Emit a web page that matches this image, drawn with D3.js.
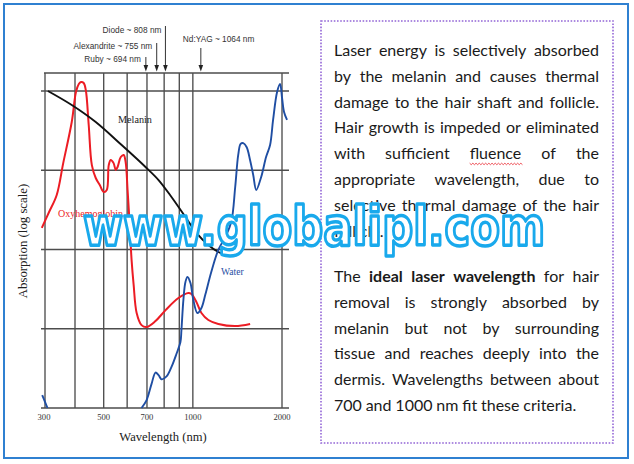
<!DOCTYPE html>
<html><head><meta charset="utf-8">
<script src="https://cdn.jsdelivr.net/npm/d3@7"></script>
<style>html,body{margin:0;padding:0;background:#fff;}svg{display:block;}</style>
</head><body>
<svg id="chart" width="634" height="464"></svg>
<script>
// ---------------- DATA ----------------
const oxyWavelength = [309, 327, 347, 365, 390, 403, 412, 419, 428, 435, 445, 456, 470, 485, 500, 512, 520, 528, 540, 549, 557, 571, 584, 593, 602, 612, 621, 631, 646, 671, 698, 748, 809, 894, 966, 989, 1028, 1069, 1128, 1219, 1390, 1561];
const oxyAbsorption = [187, 297, 487, 1230, 4060, 9710, 12250, 13000, 12600, 10300, 3720, 1160, 798, 651, 532, 564, 1160, 1350, 1230, 1010, 1100, 1470, 1560, 1270, 564, 204, 74, 36, 15.8, 11.1, 10.5, 12.5, 17.2, 24.4, 28.3, 27.4, 21.8, 15.8, 12.9, 11.5, 10.8, 11.5];

const melaninWavelength = [324, 390, 470, 575, 692, 766, 847, 944, 1028, 1128, 1219, 1317];
const melaninAbsorption = [10000, 6660, 4060, 2080, 1100, 753, 460, 257, 162, 114, 93, 83];

const waterWavelength = [671, 698, 725, 748, 766, 784, 815, 847, 880, 908, 915, 929, 944, 959, 981, 1004, 1036, 1069, 1102, 1154, 1219, 1287, 1348, 1390, 1423, 1450, 1480, 1520, 1560, 1599, 1637, 1701, 1767, 1823, 1866, 1925, 1970, 2001, 2032, 2080];
const waterAbsorption = [1.0, 1.26, 2.0, 2.8, 2.6, 2.3, 2.5, 3.3, 4.8, 6.8, 9.6, 23, 39, 45, 38, 23, 15.8, 18.3, 27, 52, 99, 144, 222, 615, 1560, 2150, 2200, 1950, 1350, 871, 564, 822, 1470, 2080, 4310, 9710, 12250, 8160, 5430, 4310];

const waterUvWavelength = [310, 323];
const waterUvAbsorption = [1.45, 1.0];

const gridWavelengths = [400, 500, 600, 700, 800, 900, 1000, 2000];
const gridAbsorption = [1, 10, 100, 1000, 10000];
const tickWavelengths = [300, 500, 700, 1000, 2000];

const laserNames = ["Ruby ~ 694 nm", "Alexandrite ~ 755 nm", "Diode ~ 808 nm", "Nd:YAG ~ 1064 nm"];
const laserWavelengths = [694, 755, 808, 1064];

const seriesNames = ["Oxyhemoglobin", "Melanin", "Water"];
const xTitle = "Wavelength (nm)";
const yTitle = "Absorption (log scale)";
const watermark = "www.globalipl.com";

const paragraph1 = [
  "Laser energy is selectively absorbed",
  "by the melanin and causes thermal",
  "damage to the hair shaft and follicle.",
  "Hair growth is impeded or eliminated",
  "with sufficient fluence of the",
  "appropriate wavelength, due to",
  "selective thermal damage of the hair",
  "follicle."
];
const paragraph2 = [
  "The *ideal *laser *wavelength for hair",
  "removal is strongly absorbed by",
  "melanin but not by surrounding",
  "tissue and reaches deeply into the",
  "dermis. Wavelengths between about",
  "700 and 1000 nm fit these criteria."
];

// ---------------- LAYOUT ----------------
const svg = d3.select("#chart");
const frame = {left: 45, right: 284, top: 73, bottom: 408, hx0: 41, hx1: 289};
const x = d3.scaleLog().domain([300, 2000]).range([38, 282]);
const y = d3.scaleLog().domain([1, 10000]).range([408, 91]);
const gridColor = "#4d4d4d";
const serif = "'Liberation Serif','Times New Roman',serif";
const sans = "'Liberation Sans',Arial,sans-serif";

// outer border
svg.append("rect").attr("x", 4).attr("y", 4).attr("width", 624).attr("height", 454)
  .attr("fill", "#fff").attr("stroke", "#2f80d1").attr("stroke-width", 2);

// dotted text box
svg.append("rect").attr("x", 321).attr("y", 21).attr("width", 292).attr("height", 422)
  .attr("fill", "none").attr("stroke", "#9366d6").attr("stroke-width", 1.6)
  .attr("stroke-dasharray", "1.6 1.6");

const plot = svg.append("g");

// horizontal grid
plot.selectAll("line.h").data(gridAbsorption).join("line")
  .attr("x1", frame.hx0).attr("x2", frame.hx1)
  .attr("y1", d => y(d)).attr("y2", d => y(d))
  .attr("stroke", gridColor).attr("stroke-width", 1.35);
plot.append("line").attr("x1", frame.left - 1).attr("x2", frame.hx1)
  .attr("y1", frame.top).attr("y2", frame.top)
  .attr("stroke", gridColor).attr("stroke-width", 1.35);
// vertical grid
plot.append("line").attr("x1", frame.left).attr("x2", frame.left)
  .attr("y1", frame.top).attr("y2", frame.bottom)
  .attr("stroke", gridColor).attr("stroke-width", 1.35);
plot.selectAll("line.v").data(gridWavelengths).join("line")
  .attr("x1", d => x(d)).attr("x2", d => x(d))
  .attr("y1", frame.top).attr("y2", frame.bottom)
  .attr("stroke", gridColor).attr("stroke-width", 1.35);

// x tick labels
plot.selectAll("text.tick").data(tickWavelengths).join("text")
  .attr("x", d => Math.max(x(d), frame.left - 1)).attr("y", 420)
  .attr("text-anchor", "middle").attr("font-family", serif).attr("font-size", 8.6)
  .attr("fill", "#333").text(d => d);

// axis titles
plot.append("text").attr("x", 163).attr("y", 441).attr("text-anchor", "middle")
  .attr("font-family", serif).attr("font-size", 12.6).attr("fill", "#222").text(xTitle);
plot.append("text").attr("transform", "translate(26.5,241) rotate(-90)")
  .attr("text-anchor", "middle").attr("font-family", serif).attr("font-size", 12.8)
  .attr("fill", "#222").text(yTitle);

// curves
const line = d3.line().x(d => x(d[0])).y(d => y(d[1])).curve(d3.curveCatmullRom.alpha(0.5));
const zip = (a, b) => a.map((v, i) => [v, b[i]]);
plot.append("path").attr("d", line(zip(oxyWavelength, oxyAbsorption)))
  .attr("fill", "none").attr("stroke", "#ec1c24").attr("stroke-width", 2);
plot.append("path").attr("d", line(zip(melaninWavelength, melaninAbsorption)))
  .attr("fill", "none").attr("stroke", "#111").attr("stroke-width", 1.9);
plot.append("path").attr("d", line(zip(waterWavelength, waterAbsorption)))
  .attr("fill", "none").attr("stroke", "#1f4ea3").attr("stroke-width", 1.9);
plot.append("path").attr("d", line(zip(waterUvWavelength, waterUvAbsorption)))
  .attr("fill", "none").attr("stroke", "#1f4ea3").attr("stroke-width", 1.9);

// series labels
plot.append("text").attr("x", 58).attr("y", 216.5).attr("font-family", serif)
  .attr("font-size", 10).attr("fill", "#ec1c24").text(seriesNames[0]);
plot.append("text").attr("x", 135).attr("y", 123).attr("text-anchor", "middle")
  .attr("font-family", serif).attr("font-size", 10.2).attr("fill", "#222").text(seriesNames[1]);
plot.append("text").attr("x", 221).attr("y", 275).attr("font-family", serif)
  .attr("font-size", 9.6).attr("fill", "#1f4ea3").text(seriesNames[2]);

// laser arrows
const arrowTop = [57, 43, 26, 48];
const labelY = [62, 49, 33, 42];
const labelDx = [-5, -4.5, -4, -18];
const labelAnchor = ["end", "end", "end", "start"];
laserWavelengths.forEach((w, i) => {
  const ax = x(w);
  plot.append("line").attr("x1", ax).attr("x2", ax).attr("y1", arrowTop[i]).attr("y2", 66)
    .attr("stroke", "#333").attr("stroke-width", 1);
  plot.append("path").attr("d", `M${ax - 2.3},65 L${ax + 2.3},65 L${ax},71.5 Z`).attr("fill", "#222");
  plot.append("text").attr("x", ax + labelDx[i]).attr("y", labelY[i])
    .attr("text-anchor", labelAnchor[i]).attr("font-family", sans).attr("font-size", 8.3)
    .attr("fill", "#333").text(laserNames[i]);
});

// ---------------- RIGHT TEXT ----------------
const fontSize = 16;
const tg = svg.append("g").attr("font-family", "Lato, 'Open Sans', sans-serif")
  .attr("font-size", fontSize).attr("fill", "#1a1a1a");
const textLeft = 334, textRight = 599, lineStep = 25.8;
let fluenceEl = null;
function drawPara(lines, y0) {
  lines.forEach((ln, i) => {
    const words = ln.split(" ").map(w => ({bold: w.startsWith("*"), t: w.replace(/\*/g, "")}));
    const yy = y0 + i * lineStep;
    const last = i === lines.length - 1;
    const els = words.map(w => tg.append("text").attr("y", yy)
      .attr("font-weight", w.bold ? 700 : 400).text(w.t));
    const widths = els.map(e => e.node().getComputedTextLength());
    const sum = d3.sum(widths);
    const space = fontSize * 0.24;
    let gap = last ? space : (textRight - textLeft - sum) / (words.length - 1);
    let sc = 1;
    if (!last && gap < 3) { gap = 3; sc = (textRight - textLeft - gap * (words.length - 1)) / sum; }
    let xx = textLeft;
    els.forEach((e, k) => {
      e.attr("x", xx);
      if (sc < 1) e.attr("textLength", widths[k] * sc).attr("lengthAdjust", "spacingAndGlyphs");
      if (words[k].t === "fluence") fluenceEl = {x: xx, w: widths[k] * sc, y: yy};
      xx += widths[k] * sc + gap;
    });
  });
}
drawPara(paragraph1, 56);
drawPara(paragraph2, 282);
if (fluenceEl) {
  let d = `M${fluenceEl.x},${fluenceEl.y + 4}`;
  for (let xx = fluenceEl.x, k = 0; xx < fluenceEl.x + fluenceEl.w; xx += 1.6, k++) {
    d += ` L${xx + 1.6},${fluenceEl.y + (k % 2 ? 4 : 5.5)}`;
  }
  tg.append("path").attr("d", d).attr("fill", "none").attr("stroke", "#e8262e").attr("stroke-width", 0.8);
}

// ---------------- WATERMARK ----------------
svg.append("text").attr("x", 83).attr("y", 245)
  .attr("font-family", "'DejaVu Sans', Verdana, sans-serif").attr("font-weight", 700)
  .attr("font-size", 54).attr("textLength", 462).attr("lengthAdjust", "spacingAndGlyphs")
  .attr("fill", "#fff").attr("stroke", "#19a9ec").attr("stroke-width", 3.5)
  .attr("stroke-linejoin", "round").text(watermark);
</script>
</body></html>
